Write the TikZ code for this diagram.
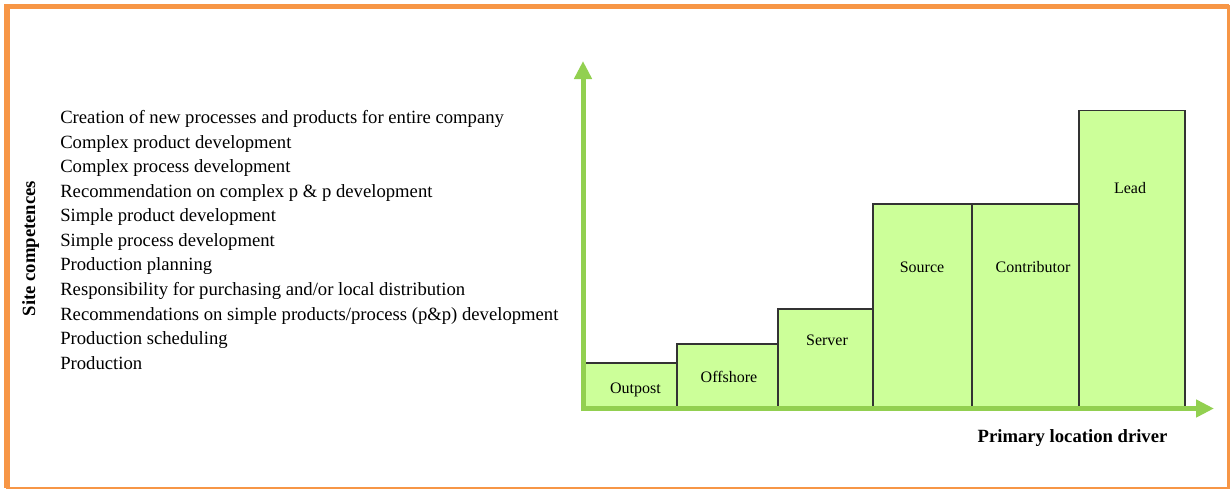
\documentclass[tikz,border=0pt]{standalone}
\usepackage{fontspec}
\setmainfont{Liberation Serif}
\usetikzlibrary{arrows.meta}
\definecolor{frameorange}{HTML}{F79646}
\definecolor{axisgreen}{HTML}{92D050}
\definecolor{barfill}{HTML}{CCFF99}
\definecolor{baredge}{HTML}{333333}
\tikzset{
  px/.style={x=0.75pt,y=-0.75pt},
  bar/.style={fill=barfill,draw=baredge,line width=0.8pt},
  barlabel/.style={font=\fontsize{12}{14}\selectfont,anchor=base,inner sep=0pt},
  comp/.style={font=\fontsize{14}{16}\selectfont,anchor=base west,inner sep=0pt},
  axislabel/.style={font=\fontsize{14}{16}\selectfont\bfseries,anchor=base,inner sep=0pt},
  axis/.style={draw=axisgreen,line width=3.75pt,-{Triangle[width=12.75pt,length=13.5pt]}}
}
\begin{document}
\begin{tikzpicture}[px]
\useasboundingbox (0,0) rectangle (1231,490);
% frame
\draw[frameorange,line width=1.6pt] (7,6.5) rectangle (1228.5,488);
\draw[frameorange,line width=4.3pt] (7,488) -- (7,6.5) -- (1228.5,6.5);
% bars
\draw[bar] (584,408) rectangle (677,363);
\draw[bar] (677,408) rectangle (778,344);
\draw[bar] (778,408) rectangle (873,309);
\draw[bar] (873,408) rectangle (972,204);
\draw[bar] (972,408) rectangle (1079,204);
\draw[bar] (1079,408) rectangle (1185,110.5);
\node[barlabel] (outpost) at (635.5,393) {Outpost};
\node[barlabel] (offshore) at (729,382.5) {Offshore};
\node[barlabel] (server) at (827,345.5) {Server};
\node[barlabel] (source) at (922,272) {Source};
\node[barlabel] (contributor) at (1033,272) {Contributor};
\node[barlabel] (lead) at (1130,193.5) {Lead};
% axes
\coordinate (origin) at (583,411);
\coordinate (ytip) at (583,61);
\coordinate (xorigin) at (581,408.5);
\coordinate (xtip) at (1214,408.5);
\draw[axis] (origin) -- (ytip);
\draw[axis] (xorigin) -- (xtip);
% axis labels
\node[axislabel] (xlabel) at (1072.5,442) {Primary location driver};
\node[axislabel,rotate=90] (ylabel) at (35,248.5) {Site competences};
% competences
\node[comp] (c1) at (60,123.5) {Creation of new processes and products for entire company};
\node[comp] (c2) at (60,148.1) {Complex product development};
\node[comp] (c3) at (60,172.6) {Complex process development};
\node[comp] (c4) at (60,197.2) {Recommendation on complex p \& p development};
\node[comp] (c5) at (60,221.7) {Simple product development};
\node[comp] (c6) at (60,246.3) {Simple process development};
\node[comp] (c7) at (60,270.9) {Production planning};
\node[comp] (c8) at (60,295.4) {Responsibility for purchasing and/or local distribution};
\node[comp] (c9) at (60,320.0) {Recommendations on simple products/process (p\&p) development};
\node[comp] (c10) at (60,344.5) {Production scheduling};
\node[comp] (c11) at (60,369.1) {Production};
\end{tikzpicture}
\end{document}
